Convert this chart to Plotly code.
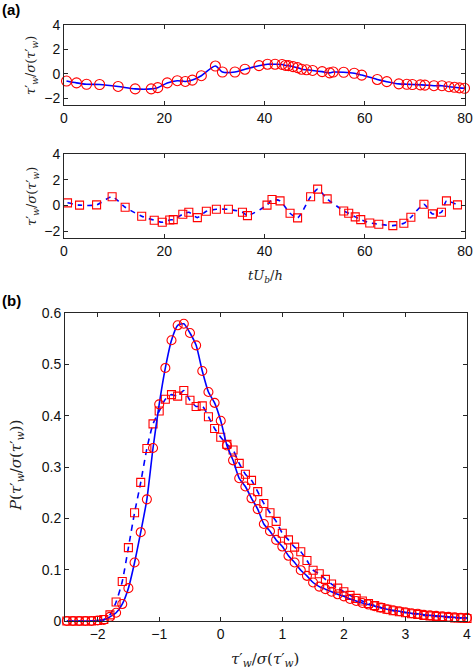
import plotly.graph_objects as go

# ---------------- data ----------------
# (a) upper: circles + solid line
t_a1 = [0.5, 2.5, 4.5, 7.1, 10.8, 14.2, 17.4, 18.7, 20.6, 22.6, 24.2, 25.6, 27.4, 30.2,
        31.6, 34.1, 36.1, 38.9, 40.6, 42.1, 43.5, 44.2, 44.8, 45.7, 46.6, 47.4, 48.4,
        49.6, 51.5, 53.0, 53.7, 55.8, 57.9, 59.4, 62.5, 64.4, 66.8, 68.4, 69.5, 71.1,
        72.0, 73.8, 75.4, 76.8, 77.9, 78.9, 79.9]
s_a1 = [-0.59, -0.74, -0.85, -0.87, -1.03, -1.23, -1.23, -1.13, -0.74, -0.56, -0.62,
        -0.51, -0.15, 0.64, 0.15, 0.15, 0.38, 0.67, 0.79, 0.79, 0.77, 0.69, 0.67, 0.59,
        0.51, 0.38, 0.33, 0.28, 0.18, 0.08, 0.15, 0.13, 0.05, -0.10, -0.46, -0.64, -0.82,
        -0.85, -0.87, -0.90, -0.92, -0.97, -0.97, -1.05, -1.10, -1.15, -1.18]

# (a) lower: squares + dashed line
t_a2 = [0.7, 3.1, 6.5, 9.6, 12.2, 15.5, 18.0, 19.6, 21.1, 21.8, 23.7, 24.9, 26.6, 28.4,
        30.4, 32.8, 35.6, 36.6, 40.5, 41.5, 43.1, 45.1, 46.6, 49.2, 50.6, 52.5, 55.8,
        56.8, 58.1, 59.2, 61.0, 62.8, 65.6, 67.8, 69.2, 71.8, 73.5, 75.3, 76.3, 78.5]
s_a2 = [0.21, 0.03, 0.05, 0.68, -0.13, -0.83, -1.14, -1.30, -1.12, -1.09, -0.68, -0.52,
        -0.94, -0.44, -0.29, -0.29, -0.52, -0.78, 0.03, 0.47, 0.36, -0.60, -0.96, 0.68,
        1.27, 0.52, -0.42, -0.60, -0.88, -1.09, -1.35, -1.45, -1.56, -1.38, -0.91, 0.10,
        -0.65, -0.52, 0.36, 0.05]

# (b) PDFs
x_pdf = [-2.5, -2.4, -2.3, -2.2, -2.1, -2.0, -1.9, -1.8, -1.7, -1.6, -1.5, -1.4, -1.3,
         -1.2, -1.1, -1.0, -0.9, -0.8, -0.7, -0.6, -0.5, -0.4, -0.3, -0.2, -0.1, 0.0,
         0.1, 0.2, 0.3, 0.4, 0.5, 0.6, 0.7, 0.8, 0.9, 1.0, 1.1, 1.2, 1.3, 1.4, 1.5, 1.6,
         1.7, 1.8, 1.9, 2.0, 2.1, 2.2, 2.3, 2.4, 2.5, 2.6, 2.7, 2.8, 2.9, 3.0, 3.1, 3.2,
         3.3, 3.4, 3.5, 3.6, 3.7, 3.8, 3.9, 4.0]
p_circ = [0.0, 0.0, 0.0, 0.0, 0.0, 0.001, 0.002, 0.008, 0.016, 0.033, 0.064, 0.114, 0.173,
          0.237, 0.337, 0.422, 0.493, 0.547, 0.576, 0.579, 0.561, 0.537, 0.487, 0.446,
          0.425, 0.390, 0.342, 0.313, 0.278, 0.262, 0.239, 0.218, 0.189, 0.175, 0.158,
          0.145, 0.127, 0.114, 0.099, 0.088, 0.075, 0.067, 0.062, 0.057, 0.052, 0.048,
          0.043, 0.039, 0.035, 0.032, 0.029, 0.026, 0.023, 0.021, 0.019, 0.017, 0.015,
          0.014, 0.012, 0.011, 0.010, 0.009, 0.008, 0.007, 0.006, 0.006]
p_sq = [0.0, 0.0, 0.0, 0.0, 0.0, 0.001, 0.003, 0.012, 0.037, 0.077, 0.143, 0.211, 0.270,
        0.336, 0.384, 0.409, 0.432, 0.441, 0.438, 0.449, 0.430, 0.418, 0.419, 0.398,
        0.375, 0.358, 0.344, 0.333, 0.307, 0.286, 0.274, 0.252, 0.229, 0.211, 0.194,
        0.171, 0.158, 0.144, 0.135, 0.118, 0.099, 0.092, 0.081, 0.072, 0.064, 0.057,
        0.050, 0.044, 0.039, 0.034, 0.030, 0.026, 0.023, 0.020, 0.018, 0.016, 0.014,
        0.013, 0.011, 0.010, 0.009, 0.008, 0.007, 0.006, 0.006, 0.005]

xt_a = [0, 20, 40, 60, 80]
yt_a = [-2, 0, 2, 4]
xt_b = [-2, -1, 0, 1, 2, 3, 4]
yt_b = [0, 0.1, 0.2, 0.3, 0.4, 0.5, 0.6]
yt_b_lbl = ["0", "0.1", "0.2", "0.3", "0.4", "0.5", "0.6"]

# ---------------- figure ----------------
W, H = 474, 668
RED = "#ff0000"
BLUE = "#0000ff"

def px_x(a, b):
    return [a / W, b / W]

def px_y(top, bot):
    return [1 - bot / H, 1 - top / H]

fig = go.Figure()

fig.add_trace(go.Scatter(
    x=t_a1, y=s_a1, mode="lines+markers", xaxis="x", yaxis="y",
    line=dict(color=BLUE, width=1.6, shape="spline", smoothing=0.8),
    marker=dict(symbol="circle-open", color=RED, size=10, line=dict(width=1.1)),
    cliponaxis=False, showlegend=False))

fig.add_trace(go.Scatter(
    x=t_a2, y=s_a2, mode="lines+markers", xaxis="x2", yaxis="y2",
    line=dict(color=BLUE, width=1.6, dash="5px,5px", shape="spline", smoothing=0.6),
    marker=dict(symbol="square-open", color=RED, size=8, line=dict(width=1.1)),
    cliponaxis=False, showlegend=False))

fig.add_trace(go.Scatter(
    x=x_pdf, y=p_sq, mode="lines+markers", xaxis="x3", yaxis="y3",
    line=dict(color=BLUE, width=1.6, dash="6px,5px", shape="spline", smoothing=0.6),
    marker=dict(symbol="square-open", color=RED, size=8, line=dict(width=1.1)),
    cliponaxis=False, showlegend=False))

fig.add_trace(go.Scatter(
    x=x_pdf, y=p_circ, mode="lines+markers", xaxis="x3", yaxis="y3",
    line=dict(color=BLUE, width=1.6, shape="spline", smoothing=0.6),
    marker=dict(symbol="circle-open", color=RED, size=9, line=dict(width=1.1)),
    cliponaxis=False, showlegend=False))

tickfont = dict(family="Liberation Sans, Arial, sans-serif", size=14, color="#111111")
axcommon = dict(showline=True, linecolor="#262626", linewidth=1, mirror="ticks",
                ticks="inside", ticklen=4, tickcolor="#262626", showgrid=False,
                zeroline=False, tickfont=tickfont, automargin=False)

fig.update_layout(
    width=W, height=H, margin=dict(l=0, r=0, t=0, b=0, autoexpand=False),
    paper_bgcolor="white", plot_bgcolor="white",
    xaxis=dict(domain=px_x(64, 465), range=[0, 80], tickvals=xt_a, anchor="y", **axcommon),
    yaxis=dict(domain=px_y(25, 105), range=[-2.55, 4], tickvals=yt_a, anchor="x", **axcommon),
    xaxis2=dict(domain=px_x(64, 465), range=[0, 80], tickvals=xt_a, anchor="y2", **axcommon),
    yaxis2=dict(domain=px_y(154, 238), range=[-2.52, 4], tickvals=yt_a, anchor="x2", **axcommon),
    xaxis3=dict(domain=px_x(65, 467), range=[-2.53, 4], tickvals=xt_b, anchor="y3", **axcommon),
    yaxis3=dict(domain=px_y(313, 621), range=[0, 0.6], tickvals=yt_b, ticktext=yt_b_lbl,
                anchor="x3", **axcommon),
)

serif = "DejaVu Serif, Liberation Serif, serif"
tau_lbl = "<i>τ</i>′<sub><i>w</i></sub>/<i>σ</i>(<i>τ</i>′<sub><i>w</i></sub>)"

ann = [
    dict(text="<b>(a)</b>", x=0 / W, y=1 - 10 / H, xanchor="left", yanchor="middle",
         font=dict(family="Liberation Sans, Arial", size=15, color="black")),
    dict(text="<b>(b)</b>", x=0 / W, y=1 - 300 / H, xanchor="left", yanchor="middle",
         font=dict(family="Liberation Sans, Arial", size=15, color="black")),
    dict(text=tau_lbl, x=32 / W, y=1 - 65 / H, textangle=-90, xanchor="center", yanchor="middle",
         font=dict(family=serif, size=13, color="#222222")),
    dict(text=tau_lbl, x=32 / W, y=1 - 196 / H, textangle=-90, xanchor="center", yanchor="middle",
         font=dict(family=serif, size=13, color="#222222")),
    dict(text="<i>tU</i><sub><i>b</i></sub>/<i>h</i>", x=265 / W, y=1 - 276 / H,
         xanchor="center", yanchor="middle", font=dict(family=serif, size=13, color="#222222")),
    dict(text="<i>P</i>(" + tau_lbl + ")", x=16 / W, y=1 - 466 / H, textangle=-90,
         xanchor="center", yanchor="middle", font=dict(family=serif, size=15, color="#222222")),
    dict(text=tau_lbl, x=265 / W, y=1 - 659 / H, xanchor="center", yanchor="middle",
         font=dict(family=serif, size=15, color="#222222")),
]
for a in ann:
    a.update(xref="paper", yref="paper", showarrow=False)
fig.update_layout(annotations=ann)

fig.write_html("out.html", config={"displayModeBar": False},
               post_script="document.body.style.margin='0';document.body.style.overflow='hidden';")
